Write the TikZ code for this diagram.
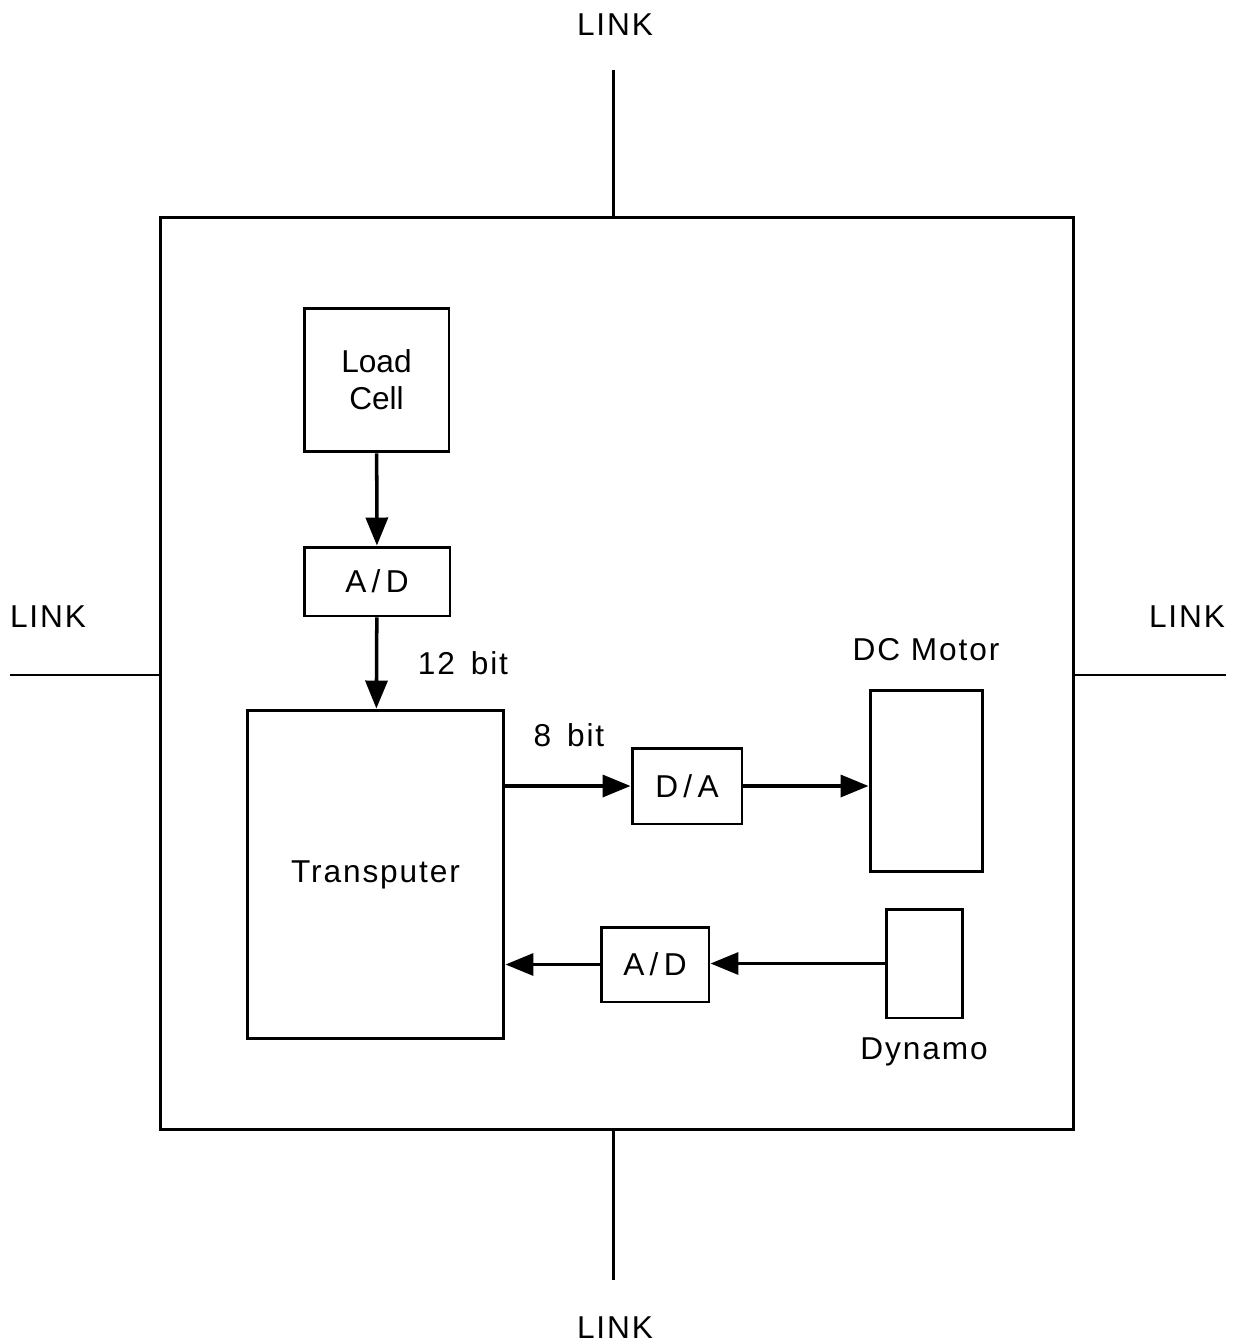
\documentclass[tikz,border=0pt]{standalone}
\usepackage{fontspec}
\setmainfont{Liberation Sans}[LetterSpace=6]
\usetikzlibrary{arrows.meta,positioning}
\tikzset{
  blk/.style={draw,line width=1.7pt,inner sep=0pt,align=center},
  arr/.style={line width=2pt,-{Triangle[length=0.56cm,width=0.44cm]}},
  lnk/.style={line width=1.7pt},
}
\begin{document}
\begin{tikzpicture}[x=0.02cm,y=-0.02cm,every node/.style={font=\fontsize{18}{21}\selectfont}]
  \useasboundingbox (0,0) rectangle (1242,1344);
  % nodes
  \node (frame) at (617,673.5) [blk,minimum width=18.28cm,minimum height=18.26cm] {};
  \node (cell) at (376.5,385) [blk,minimum width=2.9cm,minimum height=2.88cm,yshift=0.1cm,
    font=\fontsize{18}{21}\selectfont\addfontfeatures{LetterSpace=0}] {Load\\Cell};
  \node (adc1) at (377,581.5) [blk,minimum width=2.92cm,minimum height=1.38cm] {A\,/\,D};
  \node (tp) at (375.5,874.5) [blk,minimum width=5.14cm,minimum height=6.58cm] {Transputer};
  \node (dac) at (687,786) [blk,minimum width=2.2cm,minimum height=1.52cm] {D\,/\,A};
  \node (motor) at (926,781) [blk,minimum width=2.24cm,minimum height=3.64cm] {};
  \node (dyn) at (924,963.5) [blk,minimum width=1.52cm,minimum height=2.18cm] {};
  \node (adc2) at (655,964.5) [blk,minimum width=2.16cm,minimum height=1.5cm] {A\,/\,D};
  % labels
  \node (motorlbl) at (926,650) {DC Motor};
  \node (dynlbl) at (924,1052) {Dynamo};
  \node (bits12) at (463,663) {12\enspace bit};
  \node (bits8) at (569,735) {8\enspace bit};
  % signal path
  \draw[arr] (cell) -- (adc1);
  \draw[arr] (adc1) -- (tp);
  \draw[arr] (tp.east |- dac.west) -- (dac.west);
  \draw[arr] (dac.east) -- (dac.east -| motor.west);
  \draw[arr] (dyn.west) -- (dyn.west -| adc2.east);
  \draw[arr] (adc2.west) -- (adc2.west -| tp.east);
  % links
  \node (linkN) at (615,25) {LINK};
  \node (linkS) at (615,1328) {LINK};
  \node (linkW) at (48,617) {LINK};
  \node (linkE) at (1187,617) {LINK};
  \coordinate (endN) at (613,70);
  \coordinate (endS) at (613,1280);
  \coordinate (endW) at (10,675);
  \coordinate (endE) at (1226,675);
  \draw[lnk] (frame.north -| endN) -- (endN);
  \draw[lnk] (frame.south -| endS) -- (endS);
  \draw[lnk] (frame.west |- endW) -- (endW);
  \draw[lnk] (frame.east |- endE) -- (endE);
\end{tikzpicture}
\end{document}
